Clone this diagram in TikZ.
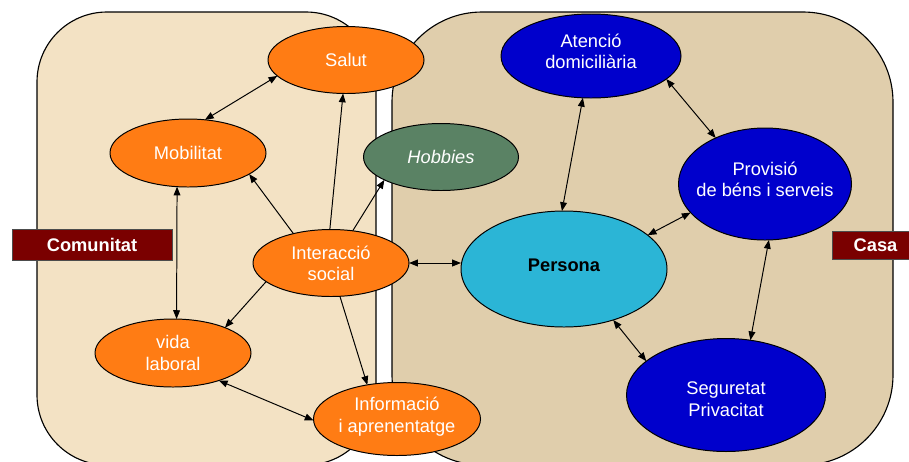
\documentclass[tikz,border=0pt]{standalone}
\usepackage{fontspec}
\setmainfont{Liberation Sans}
\usepackage{tikz}
\usetikzlibrary{arrows.meta,shapes.geometric}
\definecolor{combg}{RGB}{243,226,196}
\definecolor{casabg}{RGB}{224,206,172}
\definecolor{comorange}{RGB}{255,124,20}
\definecolor{casablue}{RGB}{0,0,204}
\definecolor{personcyan}{RGB}{43,181,214}
\definecolor{hobbygreen}{RGB}{90,130,100}
\definecolor{tagred}{RGB}{122,0,0}

\begin{document}
\begin{tikzpicture}[x=0.25mm,y=-0.25mm,font=\fontsize{13}{15}\selectfont,
  ell/.style={ellipse,draw,line width=0.7pt,inner xsep=-3mm,inner ysep=0pt,outer sep=0pt,align=center,text=white},
  comnode/.style={ell,fill=comorange},
  casanode/.style={ell,fill=casablue},
  tag/.style={draw=black!70,line width=0.6pt,fill=tagred,text=white,font=\fontsize{13}{15}\selectfont\bfseries,inner sep=0pt},
  oneway/.style={-{Triangle[length=2.2mm,width=1.7mm]},line width=0.7pt},
  twoway/.style={{Triangle[length=2.2mm,width=1.7mm]}-{Triangle[length=2.2mm,width=1.7mm]},line width=0.7pt}]
\useasboundingbox (0,0) rectangle (909,461);
% the two zones
\draw[fill=combg,line width=0.8pt,rounded corners=17.5mm] (37,12) rectangle (376,465);
\draw[fill=casabg,line width=0.8pt,rounded corners=22.5mm] (392,12) rectangle (893,465);
% comunitat side
\node (salut) at (346,60) [comnode,minimum width=39mm,minimum height=16.75mm] {Salut};
\node (mobil) at (188,153) [comnode,minimum width=39mm,minimum height=17mm] {Mobilitat};
\node (hobby) at (441,157) [ell,fill=hobbygreen,minimum width=38.75mm,minimum height=16.75mm,font=\fontsize{13}{15}\selectfont\itshape] {Hobbies};
\node (inter) at (331,263) [comnode,minimum width=39mm,minimum height=16.75mm] {Interacció\\social};
\node (vida) at (173,353) [comnode,minimum width=39mm,minimum height=17mm] {vida\\laboral};
\node (info) at (397,419) [comnode,minimum width=41.75mm,minimum height=18.25mm,text depth=6pt] {Informació\\i aprenentatge};
% casa side
\node (aten) at (591,56) [casanode,minimum width=45mm,minimum height=21mm,text depth=6.4pt] {Atenció\\domiciliària};
\node (prov) at (765,184) [casanode,minimum width=43.25mm,minimum height=28mm,text depth=7.2pt] {Provisió\\de béns i serveis};
\node (pers) at (564,269) [ell,fill=personcyan,text=black,minimum width=51.5mm,minimum height=29mm,text depth=5.5pt,font=\fontsize{13}{15}\selectfont\bfseries] {Persona};
\node (segur) at (726,395) [casanode,minimum width=49.75mm,minimum height=28.25mm,text height=30pt] {Seguretat\\Privacitat};
% labels
\node (comu) at (92,244.5) [tag,minimum width=40mm,minimum height=7.75mm] {Comunitat};
\node (casa) at (875.5,245) [tag,minimum width=21.75mm,minimum height=7mm] {Casa};
% links
\draw[twoway] (salut.193) -- (mobil.63);
\draw[oneway] (inter.92) -- (salut.265);
\draw[oneway] (inter.142) -- (mobil.341);
\draw[oneway] (inter.56) -- (hobby.202);
\draw[twoway] (mobil.252) -- (vida.84);
\draw[oneway] (inter.196) -- (vida.26);
\draw[oneway] (inter.285) -- (info.131);
\draw[twoway] (vida.329) -- (info.181);
\draw[twoway] (inter.east) -- (inter.east -| pers.west);
\draw[twoway] (aten.259) -- (pers.92);
\draw[twoway] (aten.343) -- (prov.137);
\draw[twoway] (prov.201) -- (pers.22);
\draw[twoway] (prov.274) -- (segur.66);
\draw[twoway] (pers.314) -- (segur.157);
\end{tikzpicture}
\end{document}
